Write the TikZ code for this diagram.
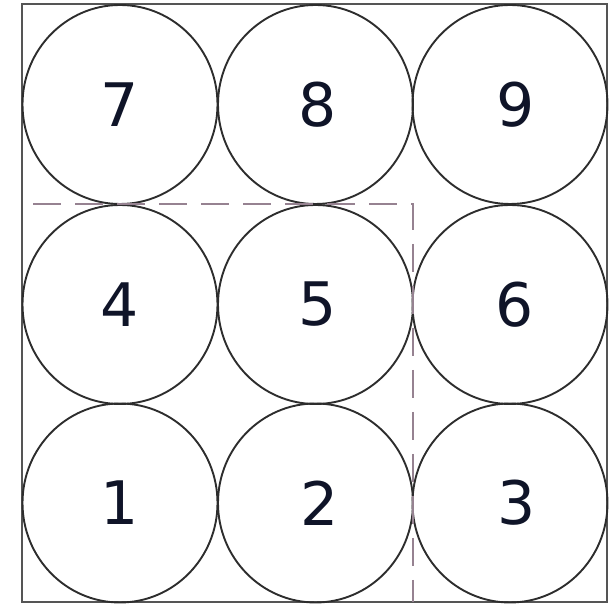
\documentclass[tikz,border=0pt]{standalone}
\usepackage{fontspec}
\setmainfont{DejaVu Sans}
\usetikzlibrary{shapes.geometric}
\definecolor{circline}{RGB}{45,45,45}
\definecolor{boxline}{RGB}{85,85,85}
\definecolor{dashline}{RGB}{150,130,145}
\definecolor{numcol}{RGB}{15,20,40}
\tikzset{
  cell/.style={ellipse, draw=circline, line width=1.9pt, minimum width=195pt, minimum height=199pt, inner sep=0pt, text=numcol, font=\fontsize{60}{62}\selectfont},
  frame/.style={draw=boxline, line width=1.9pt},
  guide/.style={draw=dashline, line width=1.9pt, dash pattern=on 28pt off 14pt}
}
\begin{document}
\begin{tikzpicture}[x=1pt,y=1pt]
\useasboundingbox (0,0) rectangle (616,604);
\draw[frame] (22,2) rectangle (607,600);
\node[cell] (c7) at (120,499.5) {7};
\node[cell] (c8) at (315.5,499.5) {\hspace{5pt}8};
\node[cell] (c9) at (510,499.5) {\hspace{12pt}9};
\node[cell] (c4) at (120,299.5) {4};
\node[cell] (c5) at (315.5,299.5) {\hspace{5pt}5};
\node[cell] (c6) at (510,299.5) {\hspace{10pt}6};
\node[cell] (c1) at (120,101) {1};
\node[cell] (c2) at (315.5,101) {\hspace{8pt}2};
\node[cell] (c3) at (510,101) {\hspace{14pt}3};
\coordinate (ds) at (33,400);
\coordinate (dc) at (413,400);
\coordinate (de) at (413,2);
\draw[guide] (ds) -- (dc) -- (de);
\end{tikzpicture}
\end{document}
